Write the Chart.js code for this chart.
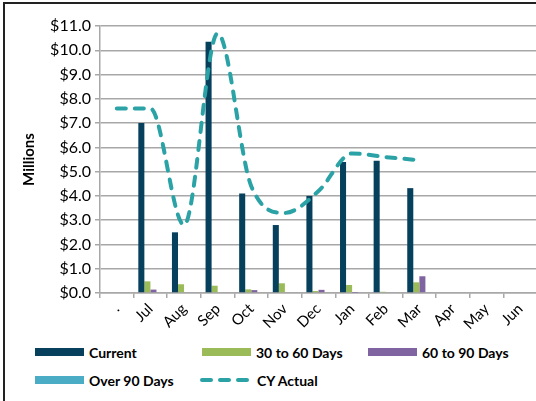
<!DOCTYPE html>
<html>
<head>
<meta charset="utf-8">
<script src="https://cdn.jsdelivr.net/npm/chart.js@4.4.1/dist/chart.umd.min.js"></script>
<style>
  html, body { margin: 0; padding: 0; background: #fff; overflow: hidden; }
  body { width: 536px; height: 401px; position: relative; font-family: Lato, sans-serif; }
  .frame { position: absolute; left: 3px; top: 2px; width: 600px; height: 460px; border: 2px solid #222; }
  .chart-box { position: absolute; left: 0; top: 0; width: 545px; height: 340px; }
  .legend-item { position: absolute; display: flex; align-items: center; font: bold 14px Lato, sans-serif; color: #000; height: 16px; }
  .swatch { width: 49px; height: 8px; margin-right: 5px; }
  .dash { width: 49px; height: 6px; margin-right: 8px; }
</style>
</head>
<body>
<div class="frame"></div>
<div class="chart-box"><canvas id="agingChart"></canvas></div>
<div id="legend"></div>
<script>
const months = ['.', 'Jul', 'Aug', 'Sep', 'Oct', 'Nov', 'Dec', 'Jan', 'Feb', 'Mar', 'Apr', 'May', 'Jun'];
const current = [null, 7.0, 2.5, 10.35, 4.1, 2.8, 4.0, 5.4, 5.45, 4.32, null, null, null];
const days30to60 = [null, 0.48, 0.36, 0.3, 0.15, 0.4, 0.08, 0.33, 0.05, 0.44, null, null, null];
const days60to90 = [null, 0.14, 0, 0, 0.12, 0.03, 0.13, 0.01, 0, 0.69, null, null, null];
const over90 = [null, 0, 0, 0, 0, 0, 0, 0, 0, 0, null, null, null];
const cyActual = [7.6, 7.6, 2.8, 10.7, 4.4, 3.3, 4.2, 5.75, 5.6, 5.47, null, null, null];

const colors = {
    current: '#06405C',
    d30: '#9BBB59',
    d60: '#8064A2',
    d90: '#4BACC6',
    cy: '#2BA3A6'
};

const gridColor = '#A8A8A8';

const ctx = document.getElementById('agingChart').getContext('2d');

new Chart(ctx, {
    type: 'bar',
    data: {
        labels: months,
        datasets: [
            {
                type: 'line',
                label: 'CY Actual',
                data: cyActual,
                borderColor: colors.cy,
                borderWidth: 4,
                borderDash: [9, 9],
                borderCapStyle: 'round',
                cubicInterpolationMode: 'monotone',
                pointRadius: 0,
                fill: false,
                order: 0
            },
            { label: 'Current', data: current, backgroundColor: colors.current, order: 1 },
            { label: '30 to 60 Days', data: days30to60, backgroundColor: colors.d30, order: 1 },
            { label: '60 to 90 Days', data: days60to90, backgroundColor: colors.d60, order: 1 },
            { label: 'Over 90 Days', data: over90, backgroundColor: colors.d90, order: 1 }
        ]
    },
    options: {
        responsive: true,
        maintainAspectRatio: false,
        animation: false,
        categoryPercentage: 0.72,
        barPercentage: 1,
        layout: { padding: { left: 16, top: 26, right: 8, bottom: 0 } },
        plugins: {
            legend: { display: false },
            tooltip: { enabled: false }
        },
        scales: {
            x: {
                afterFit: (scale) => { scale.height = 47; },
                grid: {
                    offset: true,
                    drawOnChartArea: false,
                    drawTicks: true,
                    tickLength: 5,
                    color: gridColor,
                    lineWidth: 1.5
                },
                border: { color: gridColor, width: 1.5 },
                ticks: {
                    color: '#000',
                    font: { family: 'Lato', size: 15 },
                    minRotation: 45,
                    maxRotation: 45,
                    padding: 2
                }
            },
            y: {
                min: 0,
                max: 11,
                afterFit: (scale) => { scale.width = 84; },
                grid: {
                    color: gridColor,
                    lineWidth: 1.5,
                    tickLength: 5
                },
                border: { color: gridColor, width: 1.5 },
                ticks: {
                    stepSize: 1,
                    color: '#000',
                    padding: 4,
                    font: { family: 'Lato', size: 16 },
                    callback: (v) => '$' + v.toFixed(1)
                },
                title: {
                    display: true,
                    text: 'Millions',
                    color: '#000',
                    font: { family: 'Lato', size: 15, weight: 'bold' },
                    padding: { top: 4, bottom: 4 }
                }
            }
        }
    }
});

// legend laid out like the original, two rows
const legendItems = [
    { label: 'Current', color: colors.current, x: 35, y: 344 },
    { label: '30 to 60 Days', color: colors.d30, x: 202, y: 344 },
    { label: '60 to 90 Days', color: colors.d60, x: 368, y: 344 },
    { label: 'Over 90 Days', color: colors.d90, x: 35, y: 372 },
    { label: 'CY Actual', color: colors.cy, x: 200, y: 372, dashed: true }
];

const legend = document.getElementById('legend');
legendItems.forEach(item => {
    const el = document.createElement('div');
    el.className = 'legend-item';
    el.style.left = item.x + 'px';
    el.style.top = item.y + 'px';
    if (item.dashed) {
        el.innerHTML = '<svg class="dash" width="49" height="6"><line x1="2" y1="3" x2="47" y2="3" stroke="' + item.color +
            '" stroke-width="4" stroke-linecap="round" stroke-dasharray="9 9"/></svg>';
    } else {
        el.innerHTML = '<div class="swatch" style="background:' + item.color + '"></div>';
    }
    const txt = document.createElement('span');
    txt.textContent = item.label;
    el.appendChild(txt);
    legend.appendChild(el);
});
</script>
</body>
</html>
